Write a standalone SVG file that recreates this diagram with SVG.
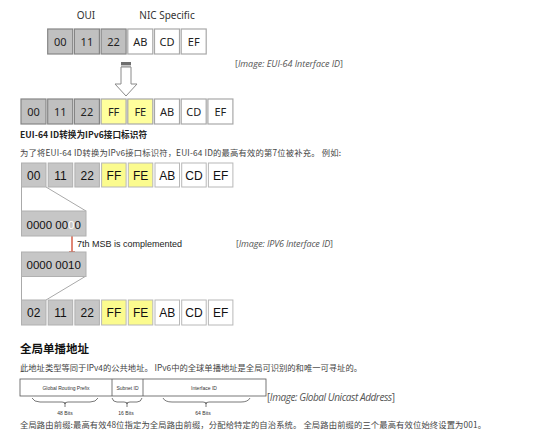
<svg xmlns="http://www.w3.org/2000/svg" width="554" height="441" viewBox="0 0 554 441">
<style>
.b1{stroke:#858585;stroke-width:1.2}
.g1{fill:#c0c0c0}
.w1{fill:#fff;stroke:#a8a8a8;stroke-width:1.2}
.y1{fill:#ffff9c;stroke:#a8a8a8;stroke-width:1.2}
.t1{font-family:"Noto Sans","Open Sans",sans-serif;font-size:11px;fill:#222;text-anchor:middle}
.g2{fill:#c6c6c6;stroke:#b0b0b0;stroke-width:1}
.w2{fill:#fff;stroke:#b8b8b8;stroke-width:1}
.y2{fill:#fbfb8e;stroke:#b8b8b8;stroke-width:1}
.t2{font-family:"Liberation Sans",Arial,sans-serif;font-size:12px;fill:#111;text-anchor:middle}
.cap{font-family:"Open Sans","Noto Sans",sans-serif;font-size:9px;fill:#555}
.cn{font-family:"Noto Sans CJK SC",sans-serif;font-size:8.3px;fill:#444}
.ln{stroke:#aaa;stroke-width:1;fill:none}
.tb{font-family:"Liberation Sans",Arial,sans-serif;font-size:5px;fill:#333;text-anchor:middle}
.br{stroke:#555;stroke-width:0.8;fill:none}
</style>
<defs>
<marker id="ra" viewBox="0 0 10 10" refX="9" refY="5" markerWidth="5" markerHeight="5" orient="auto"><path d="M0,0 L10,5 L0,10 z" fill="#d0452b"/></marker>
</defs>

<text x="86" y="19" class="t1" style="font-size:10px;fill:#333">OUI</text>
<text x="167" y="19" class="t1" style="font-size:10px;fill:#333">NIC Specific</text>

<g id="row1">
<rect x="47.7" y="29" width="25" height="25" class="g1 b1"/><text x="60.2" y="45.5" class="t1">00</text>
<rect x="74.4" y="29" width="25" height="25" class="g1 b1"/><text x="86.9" y="45.5" class="t1">11</text>
<rect x="101.1" y="29" width="25" height="25" class="g1 b1"/><text x="113.6" y="45.5" class="t1">22</text>
<rect x="127.8" y="29" width="25" height="25" class="w1"/><text x="140.3" y="45.5" class="t1">AB</text>
<rect x="154.5" y="29" width="25" height="25" class="w1"/><text x="167" y="45.5" class="t1">CD</text>
<rect x="181.2" y="29" width="25" height="25" class="w1"/><text x="193.7" y="45.5" class="t1">EF</text>
</g>

<g id="arrow1">
<rect x="121" y="62" width="10" height="3" fill="#6f6f6f"/>
<rect x="121" y="65" width="10" height="2" fill="#c8c8c8"/>
<polygon points="121,67 131,67 131,84 137,84 126,96 115,84 121,84" fill="#fff" stroke="#8a8a8a" stroke-width="1"/>
</g>

<text x="235" y="67" class="cap" textLength="108">[<tspan font-style="italic">Image: EUI-64 Interface ID</tspan>]</text>

<g id="row2">
<rect x="21" y="99" width="25" height="25" class="g1 b1"/><text x="33.5" y="115.5" class="t1">00</text>
<rect x="47.7" y="99" width="25" height="25" class="g1 b1"/><text x="60.2" y="115.5" class="t1">11</text>
<rect x="74.4" y="99" width="25" height="25" class="g1 b1"/><text x="86.9" y="115.5" class="t1">22</text>
<rect x="101.1" y="99" width="25" height="25" class="y1"/><text x="113.6" y="115.5" class="t1">FF</text>
<rect x="127.8" y="99" width="25" height="25" class="y1"/><text x="140.3" y="115.5" class="t1">FE</text>
<rect x="154.5" y="99" width="25" height="25" class="w1"/><text x="167" y="115.5" class="t1">AB</text>
<rect x="181.2" y="99" width="25" height="25" class="w1"/><text x="193.7" y="115.5" class="t1">CD</text>
<rect x="207.9" y="99" width="25" height="25" class="w1"/><text x="220.4" y="115.5" class="t1">EF</text>
</g>

<text x="20" y="138" class="cn" style="font-weight:bold;fill:#222;font-size:8.6px" textLength="127">EUI-64 ID转换为IPv6接口标识符</text>
<text x="20" y="156" class="cn" textLength="321">为了将EUI-64 ID转换为IPv6接口标识符，EUI-64 ID的最高有效的第7位被补充。 例如:</text>

<g id="row3">
<rect x="21.5" y="163" width="24.5" height="24" class="g2"/><text x="33.8" y="179.5" class="t2">00</text>
<rect x="48.2" y="163" width="24.5" height="24" class="g2"/><text x="60.5" y="179.5" class="t2">11</text>
<rect x="74.9" y="163" width="24.5" height="24" class="g2"/><text x="87.2" y="179.5" class="t2">22</text>
<rect x="101.6" y="163" width="24.5" height="24" class="y2"/><text x="113.9" y="179.5" class="t2">FF</text>
<rect x="128.3" y="163" width="24.5" height="24" class="y2"/><text x="140.6" y="179.5" class="t2">FE</text>
<rect x="155" y="163" width="24.5" height="24" class="w2"/><text x="167.3" y="179.5" class="t2">AB</text>
<rect x="181.7" y="163" width="24.5" height="24" class="w2"/><text x="194" y="179.5" class="t2">CD</text>
<rect x="208.4" y="163" width="24.5" height="24" class="w2"/><text x="220.7" y="179.5" class="t2">EF</text>
</g>

<g id="connectors">
<path d="M21.5,187 V211 M46,187 L86,211" class="ln"/>
<path d="M21.5,276 V300 M86,276 L46,300" class="ln"/>
<line x1="72" y1="231" x2="72" y2="257" stroke="#d0452b" stroke-width="1.3" marker-end="url(#ra)"/>
</g>

<g id="byte1">
<rect x="21.5" y="211" width="64.5" height="25" class="g2"/>
<text x="53.7" y="228.5" class="t2" style="font-size:11.5px">0000 00<tspan fill="#fff">0</tspan>0</text>
</g>

<text x="77" y="247" style="font-family:'Liberation Sans',Arial,sans-serif;font-size:9px;fill:#222">7th MSB is complemented</text>
<text x="236" y="247" class="cap" textLength="97">[<tspan font-style="italic">Image: IPV6 Interface ID</tspan>]</text>

<g id="byte2">
<rect x="21.5" y="252" width="64.5" height="24.5" class="g2"/>
<text x="53.7" y="269" class="t2" style="font-size:11.5px">0000 0010</text>
</g>

<g id="row4">
<rect x="21.5" y="300" width="24.5" height="25" class="g2"/><text x="33.8" y="317" class="t2">02</text>
<rect x="48.2" y="300" width="24.5" height="25" class="g2"/><text x="60.5" y="317" class="t2">11</text>
<rect x="74.9" y="300" width="24.5" height="25" class="g2"/><text x="87.2" y="317" class="t2">22</text>
<rect x="101.6" y="300" width="24.5" height="25" class="y2"/><text x="113.9" y="317" class="t2">FF</text>
<rect x="128.3" y="300" width="24.5" height="25" class="y2"/><text x="140.6" y="317" class="t2">FE</text>
<rect x="155" y="300" width="24.5" height="25" class="w2"/><text x="167.3" y="317" class="t2">AB</text>
<rect x="181.7" y="300" width="24.5" height="25" class="w2"/><text x="194" y="317" class="t2">CD</text>
<rect x="208.4" y="300" width="24.5" height="25" class="w2"/><text x="220.7" y="317" class="t2">EF</text>
</g>

<text x="20" y="352.5" style="font-family:'Noto Sans CJK SC',sans-serif;font-size:11.5px;font-weight:bold;fill:#111">全局单播地址</text>
<text x="20" y="371" class="cn" textLength="342">此地址类型等同于IPv4的公共地址。 IPv6中的全球单播地址是全局可识别的和唯一可寻址的。</text>

<g id="gua">
<rect x="20" y="379" width="246" height="17" fill="#fff" stroke="#555" stroke-width="0.8"/>
<line x1="112" y1="379" x2="112" y2="396" stroke="#555" stroke-width="0.8"/>
<line x1="143" y1="379" x2="143" y2="396" stroke="#555" stroke-width="0.8"/>
<text x="66" y="389.5" class="tb">Global Routing Prefix</text>
<text x="127.5" y="389.5" class="tb">Subnet ID</text>
<text x="204" y="389.5" class="tb">Interface ID</text>
<path d="M32,398 Q34,402 40,402 H62 Q65,402 65,404 Q65,402 68,402 H90 Q96,402 98,398 M65,402 V407" class="br"/>
<path d="M112,398 Q113,402 117,402 H124 Q127,402 127,404 Q127,402 130,402 H137 Q141,402 142,398 M127,402 V407" class="br"/>
<path d="M163,398 Q165,402 172,402 H203 Q206,402 206,404 Q206,402 209,402 H241 Q248,402 250,398 M206,402 V407" class="br"/>
<text x="65" y="415" class="tb">48 Bits</text>
<text x="126" y="415" class="tb">16 Bits</text>
<text x="203" y="415" class="tb">64 Bits</text>
</g>

<text x="267" y="401" class="cap" style="font-size:10px" textLength="128">[<tspan font-style="italic">Image: Global Unicast Address</tspan>]</text>
<text x="20" y="428" class="cn" textLength="466">全局路由前缀:最高有效48位指定为全局路由前缀，分配给特定的自治系统。 全局路由前缀的三个最高有效位始终设置为001。</text>
</svg>
